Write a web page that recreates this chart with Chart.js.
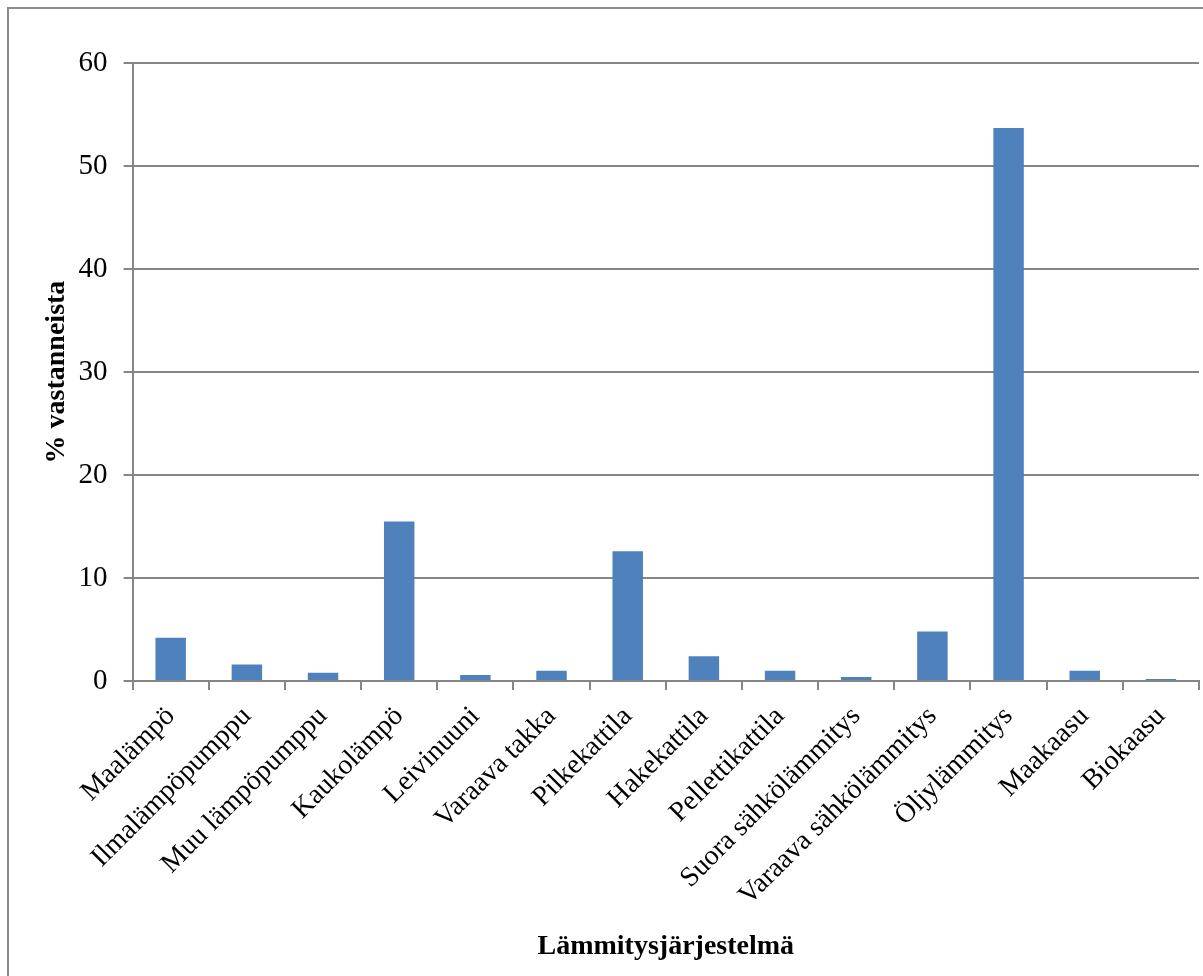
<!DOCTYPE html>
<html>
<head>
<meta charset="utf-8">
<script src="https://cdn.jsdelivr.net/npm/chart.js@4"></script>
<style>
  body { margin: 0; background: #fff; }
  #wrap { position: relative; width: 1203px; height: 976px; overflow: hidden; }
  #frame { position: absolute; left: 7px; top: 7px; width: 1300px; height: 1100px;
           border-left: 2px solid #8c8c8c; border-top: 2px solid #8c8c8c; pointer-events: none; }
</style>
</head>
<body>
<div id="wrap">
  <canvas id="graph" width="1203" height="976"></canvas>
  <div id="frame"></div>
</div>
<script>
// lämmitysjärjestelmät ja osuus vastanneista (%)
var jarjestelmat = ['Maalämpö', 'Ilmalämpöpumppu', 'Muu lämpöpumppu', 'Kaukolämpö', 'Leivinuuni',
    'Varaava takka', 'Pilkekattila', 'Hakekattila', 'Pellettikattila', 'Suora sähkölämmitys',
    'Varaava sähkölämmitys', 'Öljylämmitys', 'Maakaasu', 'Biokaasu'];
var osuudet = [4.2, 1.6, 0.8, 15.5, 0.6, 1.0, 12.6, 2.4, 1.0, 0.4, 4.8, 53.7, 1.0, 0.2];
var yTicks = [0, 10, 20, 30, 40, 50, 60];

var harmaa = '#868686';
var fontti = 'Liberation Serif';

var data = {
    labels: jarjestelmat,
    datasets: [{
        label: '% vastanneista',
        data: osuudet,
        backgroundColor: '#4f81bd',
        borderWidth: 0,
        barPercentage: 0.4,
        categoryPercentage: 1.0
    }]
};

var option = {
    responsive: false,
    animation: false,
    layout: {
        padding: { left: 40, right: 4, top: 63, bottom: 12 }
    },
    scales: {
        x: {
            offset: true,
            grid: {
                offset: true,
                drawOnChartArea: false,
                drawTicks: true,
                tickLength: 9,
                color: harmaa,
                lineWidth: 2
            },
            border: { color: harmaa, width: 2 },
            ticks: {
                autoSkip: false,
                minRotation: 45,
                maxRotation: 45,
                padding: 10,
                color: '#000',
                font: { family: fontti, size: 28 }
            },
            title: {
                display: true,
                text: 'Lämmitysjärjestelmä',
                color: '#000',
                padding: { top: 8, bottom: 0 },
                font: { family: fontti, size: 28, weight: 'bold' }
            }
        },
        y: {
            min: 0,
            max: 60,
            afterBuildTicks: function (axis) {
                axis.ticks = yTicks.map(function (v) { return { value: v }; });
            },
            grid: {
                color: harmaa,
                lineWidth: 2,
                drawTicks: true,
                tickLength: 9
            },
            border: { color: harmaa, width: 2 },
            ticks: {
                padding: 16,
                color: '#000',
                font: { family: fontti, size: 29 }
            },
            title: {
                display: true,
                text: '% vastanneista',
                color: '#000',
                padding: { top: 0, bottom: -11 },
                font: { family: fontti, size: 28, weight: 'bold' }
            }
        }
    },
    plugins: {
        legend: { display: false },
        tooltip: { enabled: false },
        title: { display: false }
    }
};

var graphique = new Chart(document.getElementById('graph'), { type: 'bar', data: data, options: option });
</script>
</body>
</html>
